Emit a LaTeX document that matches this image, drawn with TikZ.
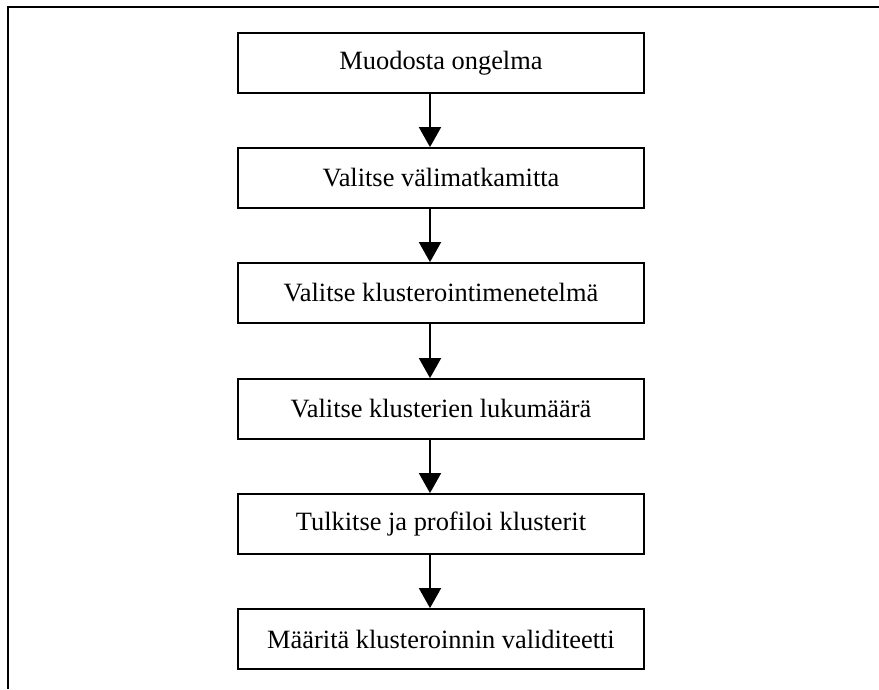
\documentclass[tikz,border=0pt]{standalone}
\usepackage{fontspec}
\setmainfont{Liberation Serif}
\usetikzlibrary{arrows.meta}
\begin{document}
\begin{tikzpicture}[x=1pt,y=-1pt,
  stepbox/.style={draw, line width=1.8pt, minimum width=406pt, minimum height=60pt,
    inner sep=0pt, font=\fontsize{26.4}{30}\selectfont},
  flow/.style={line width=1.8pt, -{Triangle[width=22pt,length=20pt]}}]
  \useasboundingbox (0,0) rectangle (879,689);
  % frame: top and left edges
  \draw[line width=2.2pt] (879,7) -- (8,7) -- (8,689);
  % steps
  \node[stepbox] (s1) at (441,63)  {Muodosta ongelma};
  \node[stepbox] (s2) at (441,178) {Valitse välimatkamitta};
  \node[stepbox] (s3) at (441,293) {Valitse klusterointimenetelmä};
  \node[stepbox] (s4) at (441,409) {Valitse klusterien lukumäärä};
  \node[stepbox] (s5) at (441,524) {Tulkitse ja profiloi klusterit};
  \node[stepbox] (s6) at (441,639) {Määritä klusteroinnin validiteetti};
  % arrows, slightly left of centre
  \foreach \a/\b in {s1/s2,s2/s3,s3/s4,s4/s5,s5/s6}
    \draw[flow] ([xshift=-11pt]\a.south) -- ([xshift=-11pt]\b.north);
\end{tikzpicture}
\end{document}
